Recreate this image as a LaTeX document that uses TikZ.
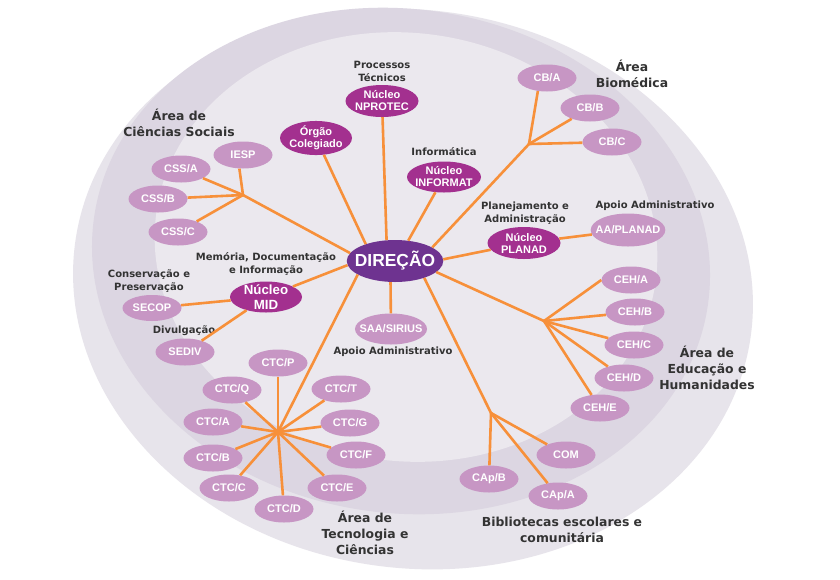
\documentclass[tikz,border=0pt]{standalone}
\usepackage{fontspec}
\setmainfont{Liberation Sans}
\newfontfamily\lblfont{DejaVu Sans}
\usepackage{tikz}
\usetikzlibrary{shapes.geometric}
\definecolor{bgout}{HTML}{E7E4EB}
\definecolor{bgband}{HTML}{DCD6E2}
\definecolor{bgin}{HTML}{EBE8EE}
\definecolor{lilac}{HTML}{C796C4}
\definecolor{nucleocol}{HTML}{A3308F}
\definecolor{dircol}{HTML}{6E3390}
\definecolor{linkcol}{HTML}{F7903A}
\definecolor{lblcol}{HTML}{333333}
\tikzstyle{unit}=[ellipse, fill=lilac, text=white, inner xsep=-6pt, inner ysep=0pt, minimum width=59pt, minimum height=27pt, font=\fontsize{11}{12}\selectfont\bfseries]
\tikzstyle{nucleo}=[ellipse, fill=nucleocol, text=white, align=center, inner xsep=-3pt, inner ysep=0pt, minimum width=73pt, minimum height=32pt, font=\fontsize{11}{12}\selectfont\bfseries]
\tikzstyle{head}=[ellipse, fill=dircol, text=white, inner xsep=-6pt, inner ysep=0pt, minimum width=96pt, minimum height=42pt, font=\fontsize{17.4}{18}\selectfont\bfseries]
\tikzstyle{caption}=[text=lblcol, align=center, inner sep=0pt, font=\lblfont\fontsize{10}{13}\selectfont\bfseries]
\tikzstyle{area}=[text=lblcol, align=center, inner sep=0pt, font=\lblfont\fontsize{12.4}{15.7}\selectfont\bfseries]
\tikzstyle{link}=[draw=linkcol, line width=2.6pt]

\begin{document}
\begin{tikzpicture}[x=1pt, y=-1pt]
		   \fill[white] (0,0) rectangle (840,579);
		   \useasboundingbox (0,0) rectangle (840,579);
		   \begin{scope}
			   \fill[bgout, rotate around={-8:(413,289)}] (413,289) ellipse [x radius=341, y radius=279];
			   \fill[bgband, rotate around={-8:(401,261)}] (401,261) ellipse [x radius=310, y radius=252];
			   \fill[bgin, rotate around={-8:(406,247)}] (406,247) ellipse [x radius=252, y radius=214];
		   \end{scope}
		   \begin{scope}
			   \node (dir) at (395, 261)[head] {DIREÇÃO};
			   \node (nprotec) at (382, 101)[nucleo] {Núcleo\\NPROTEC};
			   \node (nprotecl) at (382, 71)[caption] {Processos\\Técnicos};
			   \node (org) at (316, 138)[nucleo, minimum width=72pt, minimum height=33pt] {Órgão\\Colegiado};
			   \node (informat) at (444, 177)[nucleo, minimum width=74pt, minimum height=31pt] {Núcleo\\INFORMAT};
			   \node (informatl) at (444, 152)[caption] {Informática};
			   \node (planad) at (524, 243)[nucleo] {Núcleo\\PLANAD};
			   \node (planadl) at (525, 213)[caption] {Planejamento e\\Administração};
			   \node (aaplanad) at (628, 230)[unit, minimum width=73pt, minimum height=33pt] {AA/PLANAD};
			   \node (aaplanadl) at (655, 206)[caption] {Apoio Administrativo};
			   \node (mid) at (266, 297)[nucleo, inner ysep=-2pt, minimum width=72pt, minimum height=31pt, font=\fontsize{13.3}{15.7}\selectfont\bfseries] {Núcleo\\MID};
			   \node (midl) at (266, 264)[caption] {Memória, Documentação\\e Informação};
			   \node (secop) at (152, 308)[unit, minimum height=26pt] {SECOP};
			   \node (secopl) at (149, 281)[caption] {Conservação e\\Preservação};
			   \node (sediv) at (185, 352)[unit] {SEDIV};
			   \node (sedivl) at (184, 331)[caption] {Divulgação};
			   \node (saa) at (391, 329)[unit, minimum width=72pt, minimum height=31pt] {SAA/SIRIUS};
			   \node (saal) at (393, 352)[caption] {Apoio Administrativo};
			   \node (iesp) at (243, 155)[unit] {IESP};
			   \node (cssa) at (181, 169)[unit] {CSS/A};
			   \node (cssb) at (158, 199)[unit] {CSS/B};
			   \node (cssc) at (178, 232)[unit] {CSS/C};
			   \node (cssl) at (179, 123)[area] {Área de\\Ciências Sociais};
			   \node (cba) at (547, 78)[unit] {CB/A};
			   \node (cbb) at (590, 108)[unit] {CB/B};
			   \node (cbc) at (612, 142)[unit] {CB/C};
			   \node (cbl) at (632, 74)[area] {Área\\Biomédica};
			   \node (ceha) at (631, 280)[unit] {CEH/A};
			   \node (cehb) at (635, 312)[unit] {CEH/B};
			   \node (cehc) at (634, 345)[unit] {CEH/C};
			   \node (cehd) at (624, 378)[unit] {CEH/D};
			   \node (cehe) at (600, 408)[unit] {CEH/E};
			   \node (cehl) at (707, 368)[area] {Área de\\Educação e\\Humanidades};
			   \node (ctcp) at (278, 363)[unit] {CTC/P};
			   \node (ctcq) at (232, 390)[unit] {CTC/Q};
			   \node (ctca) at (213, 422)[unit] {CTC/A};
			   \node (ctcb) at (213, 458)[unit] {CTC/B};
			   \node (ctcc) at (229, 488)[unit] {CTC/C};
			   \node (ctcd) at (284, 509)[unit] {CTC/D};
			   \node (ctce) at (337, 488)[unit] {CTC/E};
			   \node (ctcf) at (356, 455)[unit] {CTC/F};
			   \node (ctcg) at (350, 423)[unit] {CTC/G};
			   \node (ctct) at (341, 389)[unit] {CTC/T};
			   \node (ctcl) at (365, 533)[area] {Área de\\Tecnologia e\\Ciências};
			   \node (com) at (566, 455)[unit] {COM};
			   \node (capb) at (489, 479)[unit] {CAp/B};
			   \node (capa) at (558, 496)[unit] {CAp/A};
			   \node (capl) at (562, 530)[area] {Bibliotecas escolares e\\comunitária};
			   \coordinate (cssbr) at (243, 195);
			   \coordinate (cbbr) at (529, 144);
			   \coordinate (cehbr) at (544, 321);
			   \coordinate (ctcbr) at (278, 432);
			   \coordinate (capbr) at (491, 413);
		   \end{scope}
		   \begin{scope}
			   \path [link] (org) edge (dir.150);
			   \path [link] (nprotec) edge (dir.112);
			   \path [link] (informat) edge (dir.57);
			   \path [link] (cbbr) edge (dir.20);
			   \path [link] (planad) edge (dir.2);
			   \path [link] (cehbr) edge (dir.345);
			   \path [link] (capbr) edge (dir.330);
			   \path [link] (saa) edge (dir.258);
			   \path [link] (ctcbr) edge (dir.200);
			   \path [link] (mid) edge (dir.185);
			   \path [link] (cssbr) edge (dir.170);
			   \path [link] (planad) edge (aaplanad);
			   \path [link] (secop) edge (mid);
			   \path [link] (sediv) edge (mid);
			   \path [link] (cssbr) edge (iesp.255);
			   \path [link] (cssbr) edge (cssa);
			   \path [link] (cssbr) edge (cssb);
			   \path [link] (cssbr) edge (cssc);
			   \path [link] (cbbr) edge (cba.235);
			   \path [link] (cbbr) edge (cbb);
			   \path [link] (cbbr) edge (cbc);
			   \path [link] (cehbr) edge (ceha.west);
			   \path [link] (cehbr) edge (cehb);
			   \path [link] (cehbr) edge (cehc);
			   \path [link] (cehbr) edge (cehd);
			   \path [link] (cehbr) edge (cehe);
			   \path [link] (ctcbr) edge (ctcp);
			   \path [link] (ctcbr) edge (ctcq);
			   \path [link] (ctcbr) edge (ctca);
			   \path [link] (ctcbr) edge (ctcb);
			   \path [link] (ctcbr) edge (ctcc);
			   \path [link] (ctcbr) edge (ctcd);
			   \path [link] (ctcbr) edge (ctce);
			   \path [link] (ctcbr) edge (ctcf);
			   \path [link] (ctcbr) edge (ctcg);
			   \path [link] (ctcbr) edge (ctct);
			   \path [link] (capbr) edge (com);
			   \path [link] (capbr) edge (capb);
			   \path [link] (capbr) edge (capa);
		   \end{scope}
\end{tikzpicture}
\end{document}
